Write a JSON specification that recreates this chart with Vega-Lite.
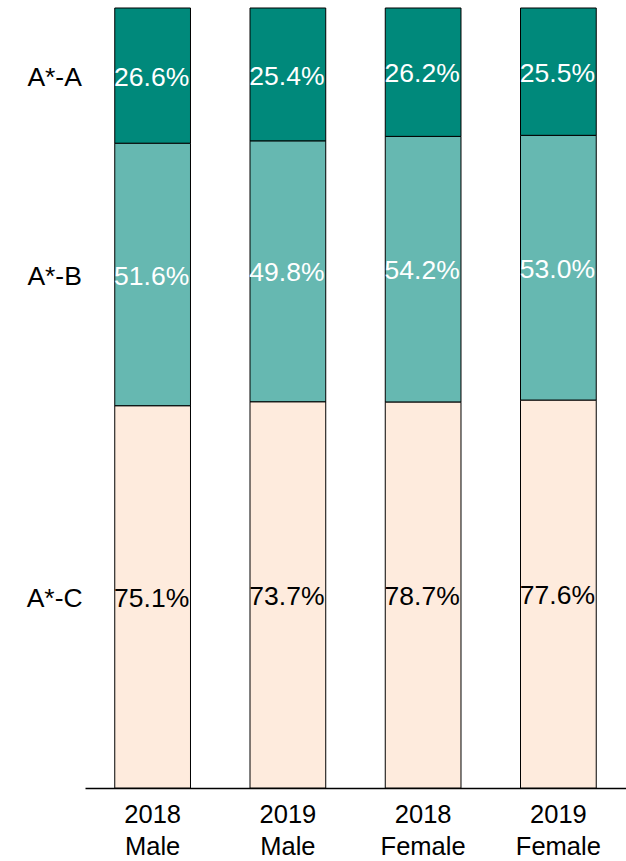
{
  "$schema": "https://vega.github.io/schema/vega-lite/v6.json",
  "autosize": "none",
  "padding": {"left": 85, "top": 8, "right": 0, "bottom": 73},
  "width": 541,
  "height": 780,
  "config": {
    "view": {"stroke": null},
    "font": "Liberation Sans",
    "text": {"font": "Liberation Sans"}
  },
  "data": {
    "values": [
      {"group": "2018 Male", "band": "A*-A", "value": 0.266},
      {"group": "2018 Male", "band": "A*-B", "value": 0.516},
      {"group": "2018 Male", "band": "A*-C", "value": 0.751},
      {"group": "2019 Male", "band": "A*-A", "value": 0.254},
      {"group": "2019 Male", "band": "A*-B", "value": 0.498},
      {"group": "2019 Male", "band": "A*-C", "value": 0.737},
      {"group": "2018 Female", "band": "A*-A", "value": 0.262},
      {"group": "2018 Female", "band": "A*-B", "value": 0.542},
      {"group": "2018 Female", "band": "A*-C", "value": 0.787},
      {"group": "2019 Female", "band": "A*-A", "value": 0.255},
      {"group": "2019 Female", "band": "A*-B", "value": 0.530},
      {"group": "2019 Female", "band": "A*-C", "value": 0.776}
    ]
  },
  "transform": [
    {"stack": "value", "groupby": ["group"], "sort": [{"field": "band", "order": "descending"}], "offset": "normalize", "as": ["y0", "y1"]},
    {"calculate": "(datum.y0 + datum.y1) / 2", "as": "ymid"}
  ],
  "encoding": {
    "x": {
      "field": "group",
      "type": "nominal",
      "sort": null,
      "scale": {"paddingInner": 0.44, "paddingOuter": 0.22},
      "axis": {
        "title": null,
        "labelAngle": 0,
        "labelFontSize": 25.5,
        "labelColor": "black",
        "labelFont": "Liberation Sans",
        "labelExpr": "split(datum.label, ' ')",
        "labelLineHeight": 32,
        "labelPadding": 14,
        "ticks": false,
        "domainColor": "black",
        "domainWidth": 1.5
      }
    }
  },
  "layer": [
    {
      "mark": {"type": "bar", "stroke": "black", "strokeWidth": 1},
      "encoding": {
        "y": {"field": "y0", "type": "quantitative", "scale": {"domain": [0, 1]}, "axis": null},
        "y2": {"field": "y1"},
        "color": {
          "field": "band",
          "type": "nominal",
          "scale": {"domain": ["A*-A", "A*-B", "A*-C"], "range": ["#00897B", "#66B8B1", "#FEEBDD"]},
          "legend": null
        }
      }
    },
    {
      "mark": {"type": "text", "fontSize": 26.5, "baseline": "middle", "align": "center", "dx": -1, "dy": 2},
      "encoding": {
        "y": {"field": "ymid", "type": "quantitative"},
        "text": {"field": "value", "type": "quantitative", "format": ".1%"},
        "color": {"condition": {"test": "datum.band === 'A*-C'", "value": "black"}, "value": "white"}
      }
    },
    {
      "transform": [{"filter": "datum.group === '2018 Male'"}],
      "mark": {"type": "text", "fontSize": 26.5, "baseline": "middle", "align": "center", "dx": -98, "dy": 2, "color": "black"},
      "encoding": {
        "y": {"field": "ymid", "type": "quantitative"},
        "text": {"field": "band"}
      }
    }
  ]
}
